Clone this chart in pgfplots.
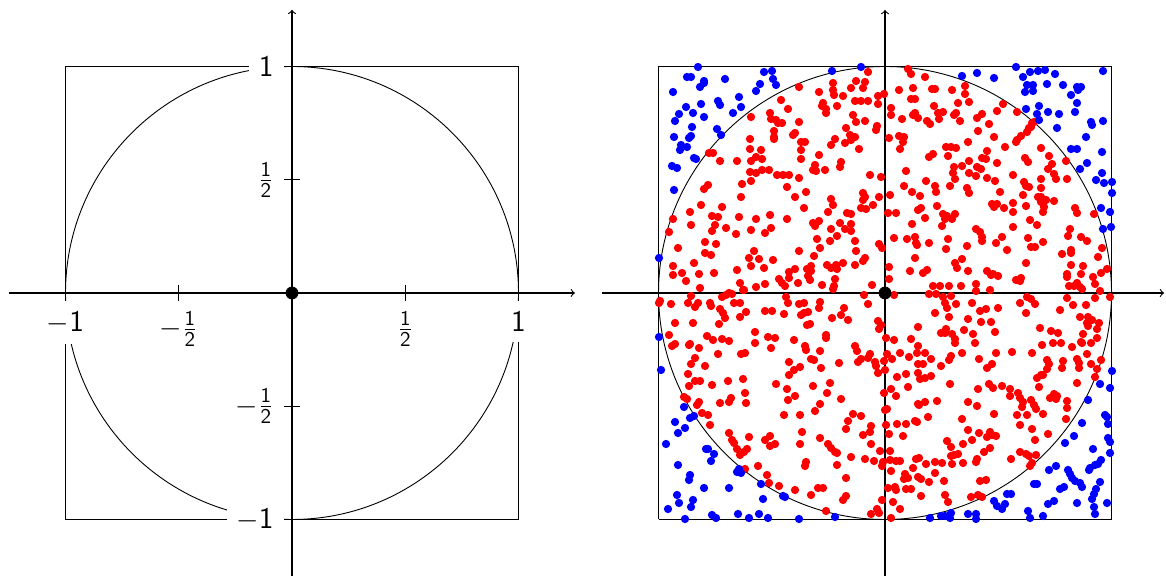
\documentclass[border=0pt]{standalone}
\usepackage{fontspec}
\usepackage{amsmath}
\usepackage{pgfplots}
\pgfplotsset{compat=1.18}
\begin{document}
\begin{tikzpicture}
\useasboundingbox (0,0) rectangle (583pt,288pt);
% ---------------- left axis ----------------
\begin{axis}[
  at={(146pt,141.5pt)}, anchor=origin,
  x=113.25pt, y=113.25pt,
  xmin=-1.25, xmax=1.249, ymin=-1.25, ymax=1.25,
  axis lines=middle,
  axis on top,
  axis line style={line width=0.55pt, -to},
  xtick={-1,-0.5,0.5,1}, ytick={-1,-0.5,0.5,1},
  xticklabels={$-$1, $-\frac{\textsf{1}}{\textsf{2}}$, $\frac{\textsf{1}}{\textsf{2}}$, 1},
  yticklabels={$-$1, $-\frac{\textsf{1}}{\textsf{2}}$, $\frac{\textsf{1}}{\textsf{2}}$, 1},
  tick align=center, major tick length=8pt,
  tick style={black, line width=0.4pt},
  every tick label/.append style={fill=white, inner sep=5pt, font=\fontsize{15}{18}\selectfont\sffamily},
  clip=false,
]
\addplot[black, line width=0.45pt] coordinates {(-1,-1) (1,-1) (1,1) (-1,1) (-1,-1)};
\draw[black, line width=0.45pt] (axis cs:0,0) circle[radius=1];
\addplot[only marks, mark=*, mark size=3pt, black] coordinates {(0,0)};
\end{axis}
% ---------------- right axis ----------------
\begin{axis}[
  at={(442.5pt,141.5pt)}, anchor=origin,
  x=0.5pt, y=0.5pt,
  xmin=-283, xmax=279, ymin=-283, ymax=283,
  axis lines=middle,
  axis line style={line width=0.55pt, -to},
  xtick=\empty, ytick=\empty,
  clip=false,
]
\addplot[black, line width=0.45pt] coordinates {(-226.5,-226.5) (226.5,-226.5) (226.5,226.5) (-226.5,226.5) (-226.5,-226.5)};
\draw[black, line width=0.45pt] (axis cs:0,0) circle[radius=226.5];
\addplot[only marks, mark=*, mark size=1.85pt, draw=red, fill=red] coordinates {
(-86,206)(-104,193)(-97,184)(-115,180)(-134,176)(-114,174)(-109,173)(-107,170)(-103,170)(-86,171)(-111,162)(-111,156)(-111,154)(-90,160)(-92,158)(-84,151)(-80,151)(-135,154)(-135,144)(-124,143)(-176,140)(-172,140)(-84,143)(-129,136)(-123,134)(-134,132)(-165,132)(-148,132)(-84,134)(-135,121)(-129,120)(-123,123)(-116,123)(-108,118)(-102,118)(-96,118)(-86,115)(-134,112)(-143,109)(-177,108)(-181,104)(-98,106)(-79,101)(-144,96)(-90,96)(-184,88)(-163,86)(-81,85)(-195,81)
(-17,221)(23,224)(26,219)(40,216)(-52,210)(-52,203)(-29,212)(-20,211)(-22,205)(-34,205)(-66,201)(-42,197)(-51,198)(-7,197)(-1,199)(14,203)(28,205)(47,204)(50,204)(67,203)(26,194)(30,194)(-30,192)(-24,192)(-17,192)(-7,189)(-62,190)(-63,187)(-59,184)(-59,180)(-48,187)(6,185)(49,187)(73,190)(53,180)(58,181)(71,180)(69,178)(30,180)(28,178)(33,175)(6,178)(-32,178)(-29,171)(-20,172)(17,174)(42,172)(45,169)(54,174)(75,172)(-8,167)(-9,163)(-39,165)(-35,158)(-30,156)(-34,153)(4,155)(14,157)(19,156)(18,151)(-50,154)(-54,148)(-40,150)(15,144)(-26,144)(61,146)(66,146)(71,145)(-66,138)(48,139)(44,136)(63,137)(-44,131)(-45,126)(-70,128)(-72,123)(-69,122)(-60,123)(77,127)(69,126)(68,120)(21,122)(-15,118)(-4,116)(70,114)(41,112)(65,107)(50,107)(51,101)(19,107)(27,101)(35,97)(-22,100)(-20,96)(-22,93)(5,98)(-6,96)(-54,94)(-52,88)(-12,88)(-24,85)(-19,84)(36,85)(33,83)(52,87)(-57,81)(-38,80)(-34,79)(3,80)(11,80)(58,79)(70,79)
(80,207)(80,199)(84,191)(118,189)(112,182)(132,181)(97,179)(92,175)(147,170)(149,171)(146,166)(144,165)(142,161)(104,169)(93,162)(136,157)(132,153)(131,151)(109,156)(83,151)(120,146)(156,145)(102,142)(97,135)(101,134)(164,137)(140,135)(143,131)(84,132)(112,130)(181,132)(167,129)(163,124)(92,126)(96,124)(84,120)(91,117)(128,118)(169,119)(171,114)(102,115)(156,114)(182,114)(110,112)(139,111)(141,107)(144,106)(82,105)(84,100)(156,105)(115,101)(138,98)(153,96)(156,96)(161,93)(156,91)(159,86)(169,92)(128,90)(141,87)(107,89)(112,89)(109,86)(119,85)(190,85)(192,80)(128,81)(158,81)(209,79)
(-212,74)(-173,77)(-167,76)(-146,76)(-129,74)(-115,78)(-98,74)(-194,68)(-170,68)(-173,62)(-159,65)(-134,63)(-114,65)(-120,60)(-216,61)(-149,59)(-180,51)(-169,49)(-207,45)(-180,40)(-174,38)(-131,42)(-86,42)(-136,35)(-126,34)(-134,27)(-112,33)(-191,30)(-212,27)(-212,18)(-121,25)(-148,23)(-203,20)(-186,19)(-171,20)(-96,21)(-90,24)(-96,15)(-106,14)(-103,10)(-100,7)(-78,24)(-199,12)(-145,10)(-87,10)(-120,9)(-129,6)(-185,5)(-142,3)(-141,3)(-156,0)(-153,-1)(-159,-2)(-194,-3)(-163,-4)(-99,-4)(-225,-8)(-226,-10)(-197,-10)(-187,-10)(-190,-14)(-214,-11)(-175,-10)(-174,-13)(-151,-10)(-145,-10)(-97,-10)(-86,-11)(-81,-10)(-165,-16)(-162,-20)(-160,-25)(-139,-19)(-120,-18)(-113,-18)(-101,-21)(-84,-22)(-81,-20)(-145,-24)(-210,-30)(-192,-30)(-166,-31)(-78,-32)(-130,-39)(-216,-42)(-178,-43)(-172,-47)(-163,-46)(-156,-48)(-117,-44)(-110,-45)(-130,-50)(-91,-47)(-210,-51)(-213,-53)(-195,-51)(-196,-52)(-186,-55)(-114,-55)(-80,-53)(-79,-57)(-144,-61)(-140,-60)(-167,-61)(-190,-65)(-194,-71)(-96,-69)(-180,-73)(-85,-74)(-91,-77)
(-72,70)(-70,67)(-66,72)(-45,70)(-40,64)(-34,62)(-34,69)(-54,64)(27,69)(40,75)(60,74)(62,77)(67,74)(57,67)(-68,54)(-55,52)(-48,57)(-30,52)(-6,49)(-3,45)(9,55)(22,54)(30,56)(31,50)(32,48)(44,50)(63,54)(61,44)(-65,45)(-29,42)(-71,37)(-20,35)(-22,32)(30,35)(77,34)(-58,28)(-49,28)(-48,24)(-54,25)(-42,30)(-30,28)(-74,27)(-74,22)(-77,17)(4,26)(70,30)(72,25)(25,22)(42,23)(38,20)(-50,14)(-51,7)(-52,4)(4,14)(-75,13)(-63,8)(-13,8)(48,7)(55,7)(64,7)(76,7)(44,-1)(51,-1)(58,-4)(66,-3)(-21,-2)(9,-2)(-17,-11)(-65,-9)(-66,-15)(-41,-15)(-44,-22)(-77,-19)(60,-10)(71,-11)(62,-15)(50,-20)(64,-24)(-53,-25)(-37,-27)(-7,-28)(-4,-32)(-6,-36)(33,-34)(61,-36)(56,-40)(60,-40)(-75,-31)(-59,-42)(-59,-45)(1,-45)(26,-46)(67,-41)(70,-46)(70,-50)(9,-47)(-30,-53)(-28,-58)(33,-53)(32,-60)(-65,-58)(-15,-61)(-17,-65)(-24,-66)(-27,-69)(2,-61)(-1,-68)(15,-60)(40,-60)(66,-63)(64,-67)(77,-60)(-74,-66)(-71,-67)(7,-66)(24,-64)(46,-66)(-46,-70)(-10,-69)(-9,-73)(33,-71)(38,-71)(56,-73)(-64,-75)(-7,-80)(0,-77)
(145,73)(152,68)(128,66)(91,64)(95,61)(97,56)(97,52)(185,64)(183,57)(196,56)(202,52)(117,56)(143,55)(158,51)(111,50)(146,46)(150,46)(82,47)(122,43)(217,45)(186,43)(186,40)(177,39)(213,36)(141,30)(186,28)(198,27)(222,24)(216,20)(208,16)(83,22)(102,22)(106,18)(113,17)(108,19)(182,19)(182,16)(196,19)(131,13)(136,15)(135,12)(91,9)(91,2)(184,7)(189,7)(192,10)(195,6)(197,4)(210,9)(215,2)(105,3)(225,-4)(142,-4)(146,-6)(150,-11)(182,-5)(210,-5)(87,-10)(135,-10)(188,-12)(201,-12)(95,-18)(101,-16)(113,-15)(141,-20)(175,-17)(83,-26)(96,-29)(106,-29)(195,-24)(203,-24)(207,-27)(202,-30)(203,-33)(214,-30)(212,-36)(155,-35)(110,-39)(79,-37)(166,-38)(173,-40)(88,-41)(198,-41)(212,-45)(90,-50)(168,-50)(176,-50)(157,-52)(187,-54)(196,-49)(197,-50)(206,-50)(111,-60)(127,-59)(147,-60)(202,-61)(94,-66)(162,-67)(164,-71)(162,-76)(178,-68)(192,-66)(194,-70)(194,-75)(216,-67)(107,-71)(102,-75)(206,-71)(177,-75)(212,-76)
(-197,-81)(-190,-88)(-185,-88)(-196,-93)(-173,-92)(-157,-88)(-142,-86)(-140,-100)(-139,-110)(-109,-91)(-96,-82)(-98,-96)(-90,-103)(-97,-107)(-201,-104)(-198,-106)(-186,-109)(-188,-112)(-165,-110)(-154,-105)(-156,-109)(-183,-120)(-177,-122)(-175,-132)(-101,-122)(-85,-122)(-83,-139)(-156,-140)(-153,-147)(-151,-150)(-136,-144)(-120,-147)(-115,-143)(-115,-153)(-110,-151)(-85,-151)(-148,-156)(-141,-159)(-145,-162)(-138,-156)(-79,-169)(-80,-173)(-127,-173)(-140,-176)(-118,-182)(-116,-190)(-106,-193)(-90,-197)
(12,-84)(21,-81)(33,-80)(35,-86)(40,-85)(46,-83)(-72,-93)(-55,-90)(-58,-100)(6,-96)(23,-94)(-1,-100)(11,-103)(65,-91)(-44,-106)(-65,-111)(-70,-118)(33,-111)(34,-112)(40,-109)(52,-108)(2,-116)(0,-117)(-32,-121)(-24,-123)(-37,-128)(-39,-136)(43,-124)(77,-126)(1,-132)(4,-141)(-14,-133)(-15,-139)(-22,-142)(12,-131)(21,-131)(30,-128)(32,-129)(18,-143)(-65,-145)(-14,-151)(-57,-151)(-54,-155)(-50,-159)(-48,-160)(62,-148)(66,-154)(78,-151)(-5,-158)(5,-158)(69,-162)(73,-161)(66,-163)(-34,-164)(-20,-166)(-11,-168)(-2,-169)(-3,-173)(5,-167)(11,-168)(15,-168)(31,-166)(34,-165)(41,-171)(50,-169)(57,-170)(67,-171)(78,-170)(-48,-172)(28,-175)(6,-178)(20,-181)(19,-186)(23,-185)(33,-184)(36,-186)(44,-189)(50,-180)(59,-188)(-39,-185)(3,-195)(10,-194)(11,-197)(21,-196)(26,-196)(-67,-195)(-62,-195)(-74,-202)(36,-203)(60,-202)(-39,-203)(-42,-207)(-3,-207)(8,-209)(63,-209)(15,-216)(-59,-218)(-8,-216)(-6,-220)(-14,-221)(6,-225)
(156,-82)(152,-85)(158,-82)(210,-84)(192,-90)(104,-91)(108,-95)(117,-93)(125,-96)(125,-103)(133,-100)(135,-105)(154,-94)(93,-96)(169,-101)(171,-106)(172,-103)(165,-105)(146,-107)(149,-112)(151,-116)(138,-109)(137,-114)(182,-108)(182,-115)(83,-109)(92,-113)(132,-122)(142,-122)(158,-121)(109,-121)(181,-126)(135,-132)(147,-136)(83,-137)(94,-140)(105,-139)(107,-142)(111,-143)(102,-144)(163,-141)(87,-147)(150,-147)(105,-155)(99,-159)(135,-159)(141,-161)(144,-163)(151,-162)(126,-166)(92,-166)(91,-169)(147,-170)(145,-173)(95,-188)(101,-187)(93,-202)(97,-204)(86,-204)
};
\addplot[only marks, mark=*, mark size=1.85pt, draw=blue, fill=blue] coordinates {
(-187,226)(-198,216)(-194,216)(-181,212)(-181,210)(-185,206)(-160,214)(-121,221)(-113,222)(-112,214)(-109,208)(-125,209)(-129,202)(-212,201)(-146,196)(-144,186)(-167,192)(-165,188)(-184,189)(-199,186)(-192,180)(-206,179)(-210,172)(-181,176)(-152,180)(-193,166)(-168,164)(-164,158)(-211,156)(-194,157)(-196,155)(-204,148)(-198,146)(-205,143)(-191,135)(-189,134)(-213,127)(-208,125)(-211,103)
(-53,222)(-24,226)(77,217)
(131,226)(92,220)(109,215)(138,216)(145,221)(153,222)(160,223)(170,219)(218,222)(142,208)(148,208)(140,201)(148,202)(162,209)(178,208)(192,206)(196,206)(193,203)(186,198)(192,190)(154,187)(141,184)(163,181)(174,179)(190,181)(152,179)(154,173)(206,171)(207,168)(218,172)(172,165)(201,156)(186,144)(192,144)(217,141)(202,130)(195,124)(217,120)(211,113)(219,110)(227,111)(227,100)(216,85)(225,81)
(-226,35)(-226,-44)(-224,-77)
(218,64)(226,66)(227,-78)
(-201,-114)(-195,-125)(-191,-123)(-210,-129)(-200,-135)(-207,-140)(-219,-151)(-179,-156)(-177,-156)(-171,-161)(-174,-168)(-207,-172)(-195,-182)(-196,-187)(-146,-176)(-148,-179)(-144,-180)(-181,-195)(-156,-195)(-124,-191)(-208,-202)(-192,-207)(-206,-210)(-194,-214)(-122,-206)(-102,-203)(-100,-204)(-217,-216)(-173,-222)(-169,-225)(-147,-221)(-126,-221)(-136,-225)(-117,-225)(-200,-226)(-86,-226)
(-50,-224)(45,-225)(56,-223)(60,-223)(66,-220)(65,-225)
(215,-91)(225,-95)(203,-107)(220,-122)(222,-124)(223,-131)(197,-130)(189,-143)(180,-150)(223,-145)(225,-149)(225,-160)(208,-156)(216,-167)(213,-171)(210,-172)(205,-175)(204,-177)(171,-173)(164,-177)(183,-177)(185,-181)(187,-185)(190,-188)(195,-190)(197,-194)(215,-189)(211,-196)(209,-201)(207,-206)(179,-194)(175,-196)(149,-191)(152,-191)(126,-201)(122,-201)(109,-208)(120,-211)(117,-216)(112,-213)(169,-208)(163,-211)(192,-210)(222,-210)(209,-214)(210,-221)(143,-218)(145,-225)(158,-223)(83,-221)(91,-221)(91,-226)
};
\addplot[only marks, mark=*, mark size=3pt, black] coordinates {(0,0)};
\end{axis}
\end{tikzpicture}
\end{document}
